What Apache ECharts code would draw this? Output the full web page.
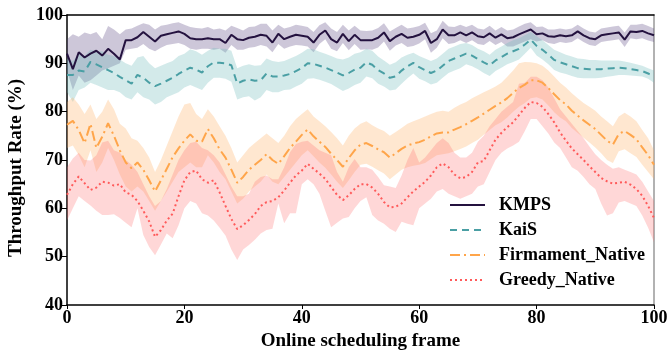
<!DOCTYPE html>
<html><head><meta charset="utf-8">
<script src="https://cdn.jsdelivr.net/npm/echarts@6/dist/echarts.min.js"></script>
<style>html,body{margin:0;padding:0;background:#fff}#c{width:670px;height:351px}</style>
</head><body><div id="c"></div>
<script>
var seriesNames = ['KMPS','KaiS','Firmament_Native','Greedy_Native'];
var frames = ['0','1','2','3','4','5','6','7','8','9','10','11','12','13','14','15','16','17','18','19',
'20','21','22','23','24','25','26','27','28','29','30','31','32','33','34','35','36','37','38','39',
'40','41','42','43','44','45','46','47','48','49','50','51','52','53','54','55','56','57','58','59',
'60','61','62','63','64','65','66','67','68','69','70','71','72','73','74','75','76','77','78','79',
'80','81','82','83','84','85','86','87','88','89','90','91','92','93','94','95','96','97','98','99','100'];
var yTicks = [40,50,60,70,80,90,100];

var kmps = [92.0,88.8,92.3,91.2,92.0,92.6,91.6,93.0,92.0,90.8,
94.8,94.8,95.4,96.5,95.5,94.5,95.7,96.0,96.3,96.6,
96.1,95.2,95.0,95.0,95.2,95.0,95.0,94.2,95.9,95.0,
94.8,95.3,95.5,95.9,95.7,94.3,96.1,95.0,95.5,95.9,
95.7,95.5,94.3,95.9,96.8,95.0,94.3,96.1,94.6,95.9,
94.8,94.8,94.8,95.3,96.4,94.6,95.5,96.1,95.3,95.5,
95.9,96.7,94.2,95.0,97.0,95.8,95.8,96.4,95.8,96.4,
95.6,95.4,96.2,95.3,96.0,95.2,95.4,96.0,96.5,97.0,
96.0,96.2,95.6,95.5,95.8,95.6,95.8,96.6,95.8,95.2,
95.0,95.8,96.0,96.2,96.4,94.9,96.6,96.5,96.7,96.2,95.8];
var kmpsUp = [95.0,96.0,95.5,96.4,96.0,96.5,95.0,97.7,97.0,96.0,
97.0,97.2,97.8,98.3,98.0,97.0,97.8,98.0,98.3,98.5,
98.0,97.5,97.3,97.2,97.5,97.0,97.2,96.8,97.8,97.3,
96.8,97.5,97.6,98.2,98.2,96.8,98.0,97.2,97.5,98.0,
97.8,97.5,96.5,97.9,98.5,97.2,96.5,98.0,96.8,97.8,
96.8,96.7,96.8,97.3,98.3,96.6,97.3,98.0,97.2,97.4,
97.7,98.4,96.2,96.8,98.8,97.6,97.5,98.0,97.5,98.0,
97.2,97.0,97.8,96.8,97.5,96.8,97.0,97.6,98.2,98.5,
97.5,97.6,97.0,97.0,97.2,97.0,97.2,98.0,97.2,96.6,
96.4,97.2,97.4,97.6,97.8,96.4,98.0,98.0,98.2,97.7,97.2];
var kmpsLo = [88.5,84.5,87.5,86.0,86.5,87.5,88.5,89.0,89.5,90.0,
92.8,93.0,93.2,94.0,93.0,92.5,93.2,93.8,94.0,94.2,
93.8,93.0,92.8,93.0,93.0,92.8,93.0,92.2,93.8,92.8,
92.8,93.2,93.4,93.8,93.5,92.3,94.0,93.0,93.5,93.8,
93.7,93.5,92.3,94.0,95.0,93.0,92.5,94.2,92.7,94.0,
92.8,92.9,92.8,93.3,94.5,92.6,93.7,94.2,93.4,93.6,
94.1,95.0,92.2,93.2,95.2,94.0,94.2,94.8,94.2,94.8,
94.0,93.8,94.6,93.8,94.4,93.5,93.5,94.0,94.5,95.0,
94.5,94.8,94.2,94.0,94.4,94.2,94.4,95.2,94.4,93.8,
93.6,94.4,94.6,94.8,95.0,93.4,95.2,95.0,95.2,94.7,94.4];

var kais = [87.6,87.6,88.5,88.3,90.3,89.8,89.2,88.6,88.0,87.2,
86.5,85.8,87.6,87.0,86.0,85.3,85.8,86.4,87.0,87.8,
88.5,89.1,88.7,88.1,89.4,90.2,90.1,90.0,89.6,85.8,
86.4,86.7,86.4,86.5,87.9,87.3,87.3,87.5,87.8,88.4,
89.0,90.0,89.9,89.5,89.1,88.6,88.1,87.5,88.0,88.7,
89.1,90.2,89.7,88.6,87.9,87.0,87.3,88.5,89.4,90.1,
89.2,88.6,88.0,88.5,89.5,90.5,91.0,91.5,92.0,91.6,
90.9,90.2,89.6,90.6,91.3,92.0,92.5,93.0,93.9,94.9,
93.6,92.8,91.8,90.7,90.2,89.8,89.4,89.0,88.9,88.8,
88.8,88.8,88.9,89.0,89.1,89.0,88.8,88.6,88.4,87.9,87.2];
var kaisUp = [91.0,90.5,92.0,91.5,92.8,92.5,92.5,91.8,91.5,90.8,
90.0,89.5,91.2,91.5,90.0,89.0,89.5,90.0,90.5,91.5,
92.0,92.9,92.5,91.8,92.6,93.2,93.0,93.0,92.6,89.0,
89.5,89.8,89.5,89.6,91.0,90.5,90.3,90.5,91.0,91.5,
92.2,93.0,92.9,92.4,92.0,91.5,91.0,90.8,91.2,92.0,
92.3,93.0,92.6,91.4,90.6,89.7,90.2,91.2,91.8,92.2,
91.5,91.0,90.5,91.0,92.0,93.0,93.5,94.0,94.2,93.8,
93.0,92.5,91.8,92.8,93.5,94.2,94.8,95.2,95.8,96.5,
95.6,94.8,93.8,92.8,92.3,91.8,91.4,91.0,90.9,90.7,
90.7,90.6,90.6,90.6,90.6,90.4,90.1,89.8,89.5,89.0,88.5];
var kaisLo = [84.0,82.0,84.5,85.0,86.0,85.5,85.0,84.5,84.5,84.0,
83.0,82.5,84.0,83.0,82.5,81.5,82.0,83.0,83.5,84.0,
85.0,85.5,85.0,84.5,86.0,87.0,87.0,86.8,86.2,82.5,
83.0,83.2,82.3,83.0,84.5,84.0,84.0,84.5,84.6,85.2,
85.8,86.8,86.9,86.6,86.2,85.7,85.0,84.3,84.8,85.5,
86.0,87.3,86.9,85.8,85.2,84.4,84.6,85.8,86.9,87.9,
86.8,86.3,85.6,86.0,87.0,88.0,88.5,89.0,89.8,89.4,
88.8,88.0,87.4,88.4,89.1,89.8,90.3,90.8,92.0,93.2,
91.6,90.8,89.8,88.6,88.1,87.8,87.4,87.0,86.9,86.9,
86.9,87.0,87.2,87.4,87.6,87.6,87.5,87.4,87.3,86.8,86.0];

var firm = [77.3,78.1,76.2,73.5,77.5,72.5,74.8,77.6,75.0,72.0,
69.5,68.3,69.5,68.0,65.8,63.5,65.8,68.2,70.6,72.4,
74.0,75.3,74.0,73.8,76.4,74.5,72.2,70.5,68.0,65.3,
66.5,68.0,69.0,70.0,71.2,70.0,69.2,70.8,72.5,73.8,
75.2,76.3,74.9,73.8,72.7,71.3,70.0,68.6,70.4,72.0,
73.2,73.5,72.9,72.2,71.6,70.5,71.4,72.3,73.0,73.4,
73.7,74.2,74.9,75.5,75.7,75.7,76.3,76.8,77.4,78.1,
78.8,79.6,80.4,81.2,81.9,82.8,83.9,84.9,85.6,86.5,
86.5,86.0,84.9,83.6,82.4,81.5,80.2,79.2,78.2,77.3,
76.4,75.2,74.0,73.2,75.4,76.0,75.2,74.3,72.6,71.0,69.0];
var firmUp = [82.0,83.0,81.5,79.5,81.5,78.5,80.0,82.5,80.5,77.5,
76.5,74.5,74.0,72.5,70.5,67.5,70.0,73.0,76.0,79.0,
81.5,81.8,79.5,78.5,80.5,79.0,77.0,75.0,72.5,69.5,
71.0,72.5,73.5,74.5,75.5,74.5,73.5,75.0,77.0,78.5,
79.5,80.5,79.0,78.0,77.0,75.8,74.5,73.0,75.0,76.5,
77.5,78.0,77.2,76.5,76.0,75.0,75.8,76.6,77.5,78.0,
78.5,79.0,79.5,80.0,80.2,80.0,80.8,81.5,82.0,82.8,
83.4,84.0,84.6,85.2,86.0,87.2,88.5,90.0,90.3,90.2,
90.0,89.5,88.5,87.3,86.0,85.0,83.8,82.8,81.8,81.0,
80.2,79.0,78.0,77.0,79.0,79.8,79.0,78.0,76.2,74.5,72.0];
var firmLo = [72.5,73.0,71.0,68.5,72.0,67.5,69.5,72.5,70.0,67.0,
64.5,63.5,64.5,63.5,61.5,59.5,61.5,63.5,65.5,67.5,
68.5,69.5,68.5,68.5,71.0,69.5,67.5,66.0,63.5,61.0,
62.0,63.5,64.5,65.5,67.0,65.5,65.0,66.5,68.0,69.5,
71.0,72.0,70.8,69.5,68.4,67.0,65.5,64.2,65.8,67.5,
69.0,69.2,68.6,67.9,67.2,66.0,67.0,68.0,68.5,68.8,
69.0,69.4,70.2,71.0,71.2,71.4,71.8,72.3,72.8,73.5,
74.2,75.2,76.2,77.2,77.8,78.8,80.0,81.0,81.8,82.8,
83.0,82.5,81.3,79.9,78.8,78.0,76.6,75.6,74.6,73.6,
72.6,71.4,70.0,69.4,71.8,72.2,71.4,70.6,69.0,67.5,66.0];

var greedy = [62.8,65.0,66.6,65.2,63.8,64.3,65.5,65.3,64.7,65.0,
63.3,62.8,61.5,59.5,57.3,54.1,55.5,57.5,58.9,62.5,
65.8,67.5,67.8,66.0,65.3,65.8,63.3,60.5,57.8,55.7,
56.5,57.6,58.8,60.5,61.3,61.5,62.3,63.7,65.3,66.8,
67.8,69.2,68.2,67.2,66.1,64.4,62.8,61.7,62.7,64.0,
65.0,65.0,64.3,63.0,61.3,60.2,60.3,61.0,62.3,63.5,
64.5,65.5,66.8,68.5,69.3,68.5,67.0,66.2,66.5,67.5,
69.5,69.8,72.0,74.2,75.6,76.8,77.8,79.3,80.8,82.0,
81.8,81.0,79.5,77.8,75.7,74.0,72.4,71.2,70.0,68.7,
67.5,66.3,65.6,65.1,65.3,65.5,64.9,64.0,62.6,60.5,58.0];
var greedyUp = [68.5,70.3,71.5,70.0,69.9,71.0,73.6,74.0,72.0,71.5,
70.0,69.0,67.5,65.0,62.5,60.5,61.5,64.0,67.0,70.0,
72.0,73.5,73.8,72.5,72.0,71.0,69.5,67.0,64.5,62.5,
62.5,63.0,65.5,66.5,66.8,66.0,66.0,68.5,71.6,73.3,
73.8,74.0,73.0,72.0,71.5,71.0,67.5,65.5,68.5,70.2,
68.5,68.5,68.0,66.5,64.8,64.5,64.2,66.8,70.0,72.5,
69.5,70.5,72.0,73.5,74.5,73.5,71.5,70.5,70.5,71.5,
73.8,75.0,77.0,78.5,80.0,81.0,82.0,85.8,86.0,87.2,
87.2,86.5,85.0,82.8,80.5,79.0,77.5,76.0,74.5,72.8,
71.2,70.0,69.0,68.2,68.5,68.0,67.5,67.0,65.5,63.5,61.5];
var greedyLo = [57.5,60.0,62.5,61.5,60.6,59.5,58.6,58.6,58.8,58.0,
57.0,56.1,60.0,54.5,52.0,50.3,52.5,54.8,53.8,56.5,
60.0,61.5,61.0,59.0,58.5,57.5,56.0,54.4,51.5,49.3,
51.5,52.4,53.5,54.8,55.5,55.8,61.0,56.9,59.0,59.0,
65.0,66.0,65.0,63.0,59.5,56.1,57.0,57.9,58.2,60.0,
61.5,62.3,58.6,57.5,56.8,55.8,55.1,57.2,56.8,56.5,
60.0,61.0,62.0,63.5,64.0,63.0,62.5,62.0,62.5,63.0,
64.5,65.0,67.5,70.0,71.5,72.4,73.0,73.8,76.0,78.5,
78.5,77.0,75.5,73.6,72.5,70.5,68.5,67.8,66.5,65.0,
64.0,61.0,58.5,59.0,61.2,61.5,61.0,60.5,58.5,56.0,53.0];

var lineColors = ['#24123f','#4a9fa4','#ffa54a','#ff5a5a'];
var bandColors = ['rgba(90,70,130,0.30)','rgba(110,185,185,0.30)','rgba(255,175,100,0.30)','rgba(255,110,110,0.28)'];
var dashTypes = ['solid',[7,5],[10,4,2,4],[2,3]];

var means = [kmps,kais,firm,greedy];
var ups = [kmpsUp,kaisUp,firmUp,greedyUp];
var los = [kmpsLo,kaisLo,firmLo,greedyLo];

var series = [];
for (var s=0;s<4;s++){
  var lo = los[s], up = ups[s];
  series.push({
    type:'line', name:'band_lo_'+s, stack:'band'+s, data:lo.slice(),
    symbol:'none', lineStyle:{opacity:0, width:0}, silent:true, z:1
  });
  series.push({
    type:'line', name:'band_w_'+s, stack:'band'+s,
    data: up.map(function(v,i){ return +(v - lo[i]).toFixed(2); }),
    symbol:'none', lineStyle:{opacity:0, width:0}, areaStyle:{color:bandColors[s], opacity:1}, silent:true, z:1
  });
}
for (var s2=0;s2<4;s2++){
  series.push({
    type:'line', name:seriesNames[s2], data:means[s2].slice(),
    symbol:'none', showSymbol:false, z:5,
    lineStyle:{color:lineColors[s2], width:2, type:dashTypes[s2]},
    itemStyle:{color:lineColors[s2]}
  });
}

var font = 'Liberation Serif';
var chart = echarts.init(document.getElementById('c'));
chart.setOption({
  animation:false,
  backgroundColor:'#fff',
  grid:{left:67, right:16, top:15, bottom:46, show:false, containLabel:false, outerBoundsMode:'none'},
  legend:{
    data:seriesNames, orient:'vertical', left:444, top:191,
    itemWidth:35, itemHeight:12, itemGap:7,
    itemStyle:{opacity:0},
    textStyle:{fontFamily:font, fontWeight:'bold', fontSize:18, lineHeight:18, color:'#000', padding:[0,0,0,9]}
  },
  xAxis:[{
    type:'category', data:frames, boundaryGap:false,
    name:'Online scheduling frame', nameLocation:'middle', nameGap:26,
    nameTextStyle:{fontFamily:font, fontWeight:'bold', fontSize:19, color:'#000'},
    axisLine:{show:true, lineStyle:{color:'#000', width:1.5}},
    axisTick:{show:true, inside:false, length:4, interval:19, lineStyle:{color:'#000'}},
    axisLabel:{interval:19, fontFamily:font, fontWeight:'bold', fontSize:18, color:'#000', margin:4},
    splitLine:{show:false}
  },{
    type:'value', position:'top', min:0, max:100,
    axisLine:{show:true, onZero:false, lineStyle:{color:'#000', width:1.5}},
    axisTick:{show:false}, axisLabel:{show:false}, splitLine:{show:false}
  }],
  yAxis:[{
    type:'value', min:yTicks[0], max:yTicks[yTicks.length-1], interval:10,
    name:'Throughput Rate (%)', nameLocation:'middle', nameGap:35,
    nameTextStyle:{fontFamily:font, fontWeight:'bold', fontSize:19, color:'#000', padding:[0,16,0,0]},
    axisLine:{show:true, lineStyle:{color:'#000', width:1.5}},
    axisTick:{show:true, inside:false, length:5, lineStyle:{color:'#000'}},
    axisLabel:{fontFamily:font, fontWeight:'bold', fontSize:18, color:'#000', margin:4},
    splitLine:{show:false}
  },{
    type:'value', position:'right', min:40, max:100,
    axisLine:{show:true, onZero:false, lineStyle:{color:'#999', width:1.5}},
    axisTick:{show:false}, axisLabel:{show:false}, splitLine:{show:false}
  }],
  series:series
});
</script></body></html>
